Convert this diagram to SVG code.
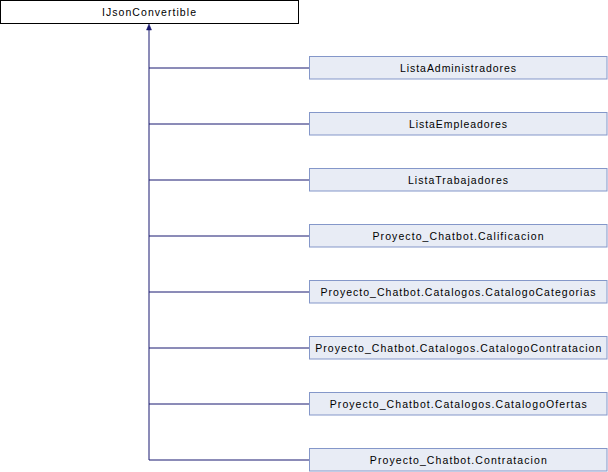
<svg xmlns="http://www.w3.org/2000/svg" width="608" height="472" viewBox="0 0 608 472">
<style>
.base rect{fill:#ffffff;stroke:#000000;stroke-width:1}
.node rect{fill:#e8ecf5;stroke:#8497c9;stroke-width:1}
text{font-family:"Liberation Sans",Arial,sans-serif;font-size:10.5px;fill:#000000;text-anchor:middle}
.edges path{fill:none;stroke:#191970;stroke-width:1}
</style>
<rect width="608" height="472" fill="#ffffff"/>
<g class="edges">
<path d="M149 30V460"/>
<path d="M149 68H309M149 124H309M149 180H309M149 236H309M149 292H309M149 348H309M149 404H309M149 460H309"/>
<polygon points="149,24 146.5,30 151.5,30" fill="#191970" stroke="#191970" stroke-width="0.5"/>
</g>
<g id="IJsonConvertible" class="base"><rect x="0.5" y="0.5" width="298" height="23"/><text x="149" y="15.5" textLength="94" lengthAdjust="spacing">IJsonConvertible</text></g>
<g id="ListaAdministradores" class="node"><rect x="309.5" y="56.5" width="297.5" height="22.5"/><text x="458" y="72" textLength="116" lengthAdjust="spacing">ListaAdministradores</text></g>
<g id="ListaEmpleadores" class="node"><rect x="309.5" y="112.5" width="297.5" height="22.5"/><text x="458" y="128" textLength="98" lengthAdjust="spacing">ListaEmpleadores</text></g>
<g id="ListaTrabajadores" class="node"><rect x="309.5" y="168.5" width="297.5" height="22.5"/><text x="458" y="184" textLength="100" lengthAdjust="spacing">ListaTrabajadores</text></g>
<g id="Calificacion" class="node"><rect x="309.5" y="224.5" width="297.5" height="22.5"/><text x="458" y="240" textLength="171" lengthAdjust="spacing">Proyecto_Chatbot.Calificacion</text></g>
<g id="CatalogoCategorias" class="node"><rect x="309.5" y="280.5" width="297.5" height="22.5"/><text x="458" y="296" textLength="275" lengthAdjust="spacing">Proyecto_Chatbot.Catalogos.CatalogoCategorias</text></g>
<g id="CatalogoContratacion" class="node"><rect x="309.5" y="336.5" width="297.5" height="22.5"/><text x="458.3" y="352" textLength="286" lengthAdjust="spacing">Proyecto_Chatbot.Catalogos.CatalogoContratacion</text></g>
<g id="CatalogoOfertas" class="node"><rect x="309.5" y="392.5" width="297.5" height="22.5"/><text x="458.3" y="408" textLength="257" lengthAdjust="spacing">Proyecto_Chatbot.Catalogos.CatalogoOfertas</text></g>
<g id="Contratacion" class="node"><rect x="309.5" y="448.5" width="297.5" height="22.5"/><text x="458.3" y="464" textLength="177" lengthAdjust="spacing">Proyecto_Chatbot.Contratacion</text></g>
</svg>
